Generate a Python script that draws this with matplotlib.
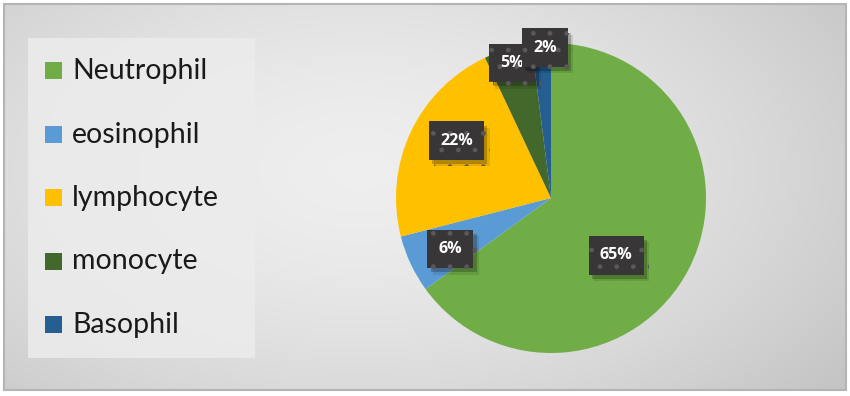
import numpy as np
import matplotlib
matplotlib.use("Agg")
import matplotlib.pyplot as plt
from matplotlib.patches import Rectangle
import matplotlib.patheffects as pe

categories = ["Neutrophil", "eosinophil", "lymphocyte", "monocyte", "Basophil"]
values = [65, 6, 22, 5, 2]
colors = ["#70AD47", "#5B9BD5", "#FFC000", "#43682B", "#255E91"]
# label centres in pie-radius units (Office "best fit" placement)
label_pos = [(0.42, -0.37), (-0.65, -0.33), (-0.61, 0.37), (-0.25, 0.87), (-0.04, 0.97)]

W, H = 850, 396
fig = plt.figure(figsize=(W / 100, H / 100), dpi=100)
fig.patch.set_facecolor("white")

# background gradient
bg = fig.add_axes([0, 0, 1, 1])
bg.set_axis_off()
yy, xx = np.mgrid[0:H, 0:W]
d = np.sqrt(((xx - 360) / 520.0) ** 2 + ((yy - 170) / 300.0) ** 2)
v = 0.935 - 0.13 * np.clip(d, 0, 1.3) ** 1.6
img = np.dstack([v, v, v])
bg.imshow(img, extent=[0, W, H, 0], aspect="auto", interpolation="bilinear")
bg.set_xlim(0, W)
bg.set_ylim(H, 0)
# outer white margin + border
for (x0, y0, w, h) in [(0, 0, W, 3), (0, H - 5, W, 5), (0, 0, 3, H), (W - 3, 0, 3, H)]:
    bg.add_patch(Rectangle((x0, y0), w, h, facecolor="white", edgecolor="none", zorder=3))
bg.add_patch(Rectangle((4, 4), W - 8, H - 10, facecolor="none", edgecolor="#b4b4b4", lw=1.5, zorder=4))

# legend box
bg.add_patch(Rectangle((28, 38), 227, 320, facecolor="#ececec", edgecolor="none", alpha=0.85, zorder=2))
y0, dy = 70, 63.5
for i, (cat, col) in enumerate(zip(categories, colors)):
    yc = y0 + i * dy
    bg.add_patch(Rectangle((45, yc - 8), 17, 17, facecolor=col, edgecolor="none", zorder=5))
    bg.text(72, yc + 1, cat, fontsize=20.5, family="Lato", color="#1a1a1a",
            va="center", ha="left", zorder=5)

# pie
cx, cy, r = 551, 198, 155
ax = fig.add_axes([(cx - r) / W, (H - cy - r) / H, 2 * r / W, 2 * r / H])
wedges, _ = ax.pie(values, colors=colors, startangle=90, counterclock=False,
                   wedgeprops=dict(linewidth=0))
ax.set_xlim(-1, 1)
ax.set_ylim(-1, 1)
ax.set_aspect("equal")
ax.set_axis_off()

plt.rcParams["hatch.linewidth"] = 1.0
for val, (lx, ly) in zip(values, label_pos):
    t = ax.text(lx, ly, f"{val}%", ha="center", va="center", fontsize=11.5,
                fontweight="bold", family="Open Sans", color="white", zorder=10,
                bbox=dict(boxstyle="square,pad=0.7", facecolor="#383636",
                          edgecolor="#5a5858", linewidth=0, hatch="."))
    t.get_bbox_patch().set_path_effects([
        pe.SimplePatchShadow(offset=(2.5, -3), shadow_rgbFace="black", alpha=0.22),
        pe.SimplePatchShadow(offset=(4, -4.5), shadow_rgbFace="black", alpha=0.1),
        pe.Normal()])

fig.savefig("out.png", dpi=100, facecolor=fig.get_facecolor())
